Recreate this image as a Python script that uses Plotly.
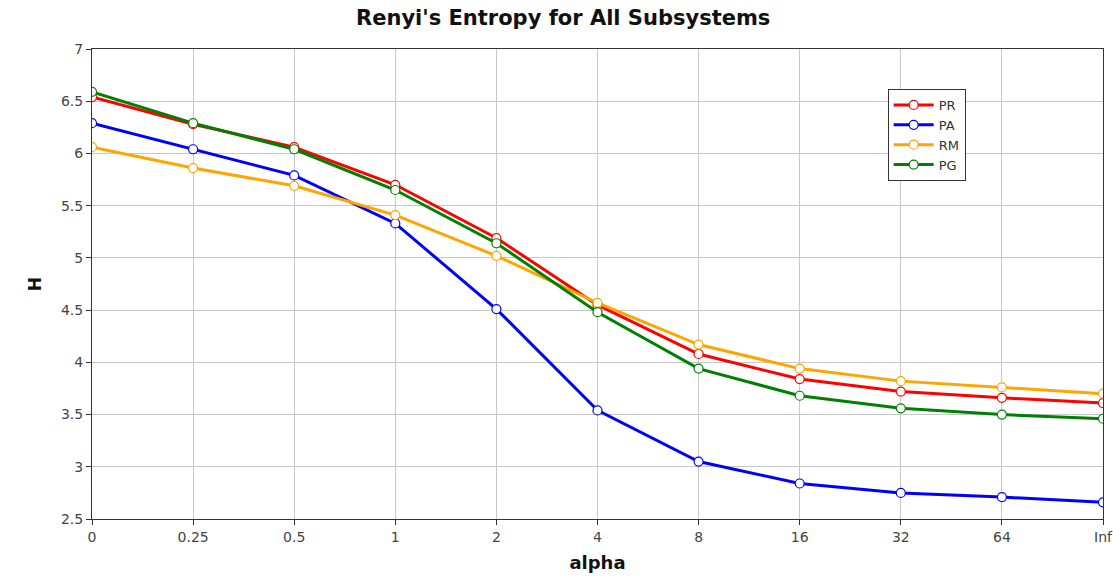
import plotly.graph_objects as go

alpha = ["0", "0.25", "0.5", "1", "2", "4", "8", "16", "32", "64", "Inf"]
PR = [6.54, 6.28, 6.06, 5.70, 5.19, 4.55, 4.08, 3.84, 3.72, 3.66, 3.61]
PA = [6.29, 6.04, 5.79, 5.33, 4.51, 3.54, 3.05, 2.84, 2.75, 2.71, 2.66]
RM = [6.06, 5.86, 5.69, 5.41, 5.02, 4.57, 4.17, 3.94, 3.82, 3.76, 3.70]
PG = [6.59, 6.29, 6.04, 5.65, 5.14, 4.48, 3.94, 3.68, 3.56, 3.50, 3.46]

series = [("PR", PR, "#ff0000"), ("PA", PA, "#0000ff"), ("RM", RM, "#ffa500"), ("PG", PG, "#008000")]

fig = go.Figure()
for name, vals, col in series:
    fig.add_trace(go.Scatter(
        x=alpha, y=vals, name=name, mode="lines+markers",
        line=dict(color=col, width=3),
        marker=dict(symbol="circle", size=9, color="white", line=dict(color=col, width=1.2)),
    ))

fig.update_layout(
    width=1113, height=577,
    margin=dict(l=92, r=10, t=49, b=58, autoexpand=False),
    paper_bgcolor="white", plot_bgcolor="white",
    font=dict(family="DejaVu Sans", color="#444"),
    title=dict(text="<b>Renyi's Entropy for All Subsystems</b>", x=0.506, xanchor="center",
               y=0.969, yanchor="middle", font=dict(size=21, color="#111", family="DejaVu Sans")),
    showlegend=True,
    legend=dict(x=0.787, y=0.915, xanchor="left", yanchor="top",
                bordercolor="#333", borderwidth=1, bgcolor="white",
                font=dict(size=13, color="#333"), tracegroupgap=0, itemwidth=40),
)
fig.update_xaxes(
    type="category", range=[0, 10], automargin=False,
    title=dict(text="<b>alpha</b>", font=dict(size=18, color="#111"), standoff=12),
    showgrid=True, gridcolor="#c8c8c8", gridwidth=1,
    showline=True, linecolor="#333", linewidth=1, mirror=True,
    ticks="outside", ticklen=5, tickcolor="#333", tickfont=dict(size=14, color="#444"),
)
fig.update_yaxes(
    range=[2.5, 7], dtick=0.5, automargin=False,
    title=dict(text="<b>H</b>", font=dict(size=17, color="#111"), standoff=14),
    showgrid=True, gridcolor="#c8c8c8", gridwidth=1,
    showline=True, linecolor="#333", linewidth=1, mirror=True,
    ticks="outside", ticklen=5, tickcolor="#333", tickfont=dict(size=14, color="#444"),
    zeroline=False,
)

fig.write_html("out.html")
